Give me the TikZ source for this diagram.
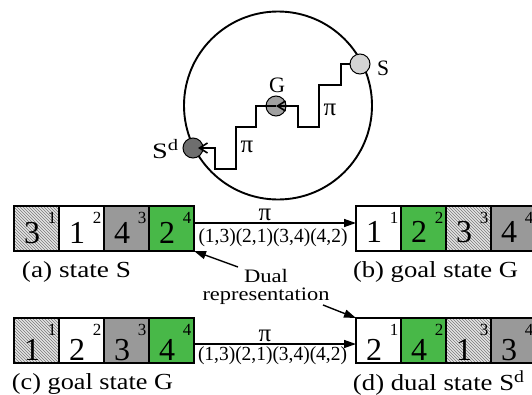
\documentclass[tikz,border=0pt]{standalone}
\usepackage{graphicx}
\usepackage{fontspec}
\setmainfont{Liberation Serif}
\usetikzlibrary{patterns,arrows.meta,calc}
\definecolor{hatchbg}{RGB}{228,228,228}
\definecolor{hatchfg}{RGB}{120,120,120}
\definecolor{boxgray}{RGB}{153,153,153}
\definecolor{boxgreen}{RGB}{72,184,72}
\definecolor{sgray}{RGB}{212,212,212}
\definecolor{ggray}{RGB}{160,160,160}
\definecolor{dgray}{RGB}{110,110,110}
\newcommand{\fitw}[2]{\resizebox{#1}{\height}{#2}}
\newcommand{\mkcell}[7]{%
  \node[cell,#4] (#1) at (#2,#3) {};
  \node[bigdig] at ($(#1.north west)+(18,#7)$) {#5};
  \node[supdig] at ($(#1.north west)+(38,17)$) {#6};
}
\tikzset{
  cell/.style={draw, line width=1.6pt, minimum width=45pt, minimum height=45pt,
    anchor=north west, inner sep=0pt, outer sep=0pt},
  hatchc/.style={preaction={fill=hatchbg}, pattern=north west lines, pattern color=hatchfg},
  whitec/.style={fill=white},
  grayc/.style={fill=boxgray},
  greenc/.style={fill=boxgreen},
  bigdig/.style={anchor=base, inner sep=0pt, font=\fontsize{32}{32}\selectfont},
  supdig/.style={anchor=base, inner sep=0pt, font=\fontsize{17}{17}\selectfont},
  caption/.style={anchor=base, inner sep=0pt, font=\fontsize{23}{23}\selectfont},
  permtxt/.style={anchor=base, inner sep=0pt, font=\fontsize{20}{20}\selectfont},
  pitxt/.style={inner sep=0pt, font=\fontsize{25}{25}\selectfont},
  lbl/.style={inner sep=0pt, font=\fontsize{22}{22}\selectfont},
  dualtxt/.style={anchor=base, inner sep=0pt, align=center,
    font=\fontsize{19}{18}\selectfont},
  statec/.style={circle, draw, line width=1pt, minimum size=20pt, inner sep=0pt},
  stair/.style={line width=2.7pt, -{Straight Barb[length=8pt,width=10pt,line width=1.6pt]}},
  piarrow/.style={line width=1.4pt, -{Triangle[length=12pt,width=8pt]}},
  ann/.style={line width=1.4pt, -{Triangle[length=12pt,width=8pt]}}
}
\begin{document}
\begin{tikzpicture}[x=1pt,y=-1pt]
\useasboundingbox (0,0) rectangle (532,394);
\clip (0,0) rectangle (532,394);
\fill[white] (0,0) rectangle (532,394);

% big circle and states
\node[circle, draw, line width=1.9pt, minimum size=188pt, inner sep=0pt] (world) at (278,105.5) {};
\node[statec, fill=sgray] (S) at (360,64) {};
\node[statec, fill=ggray] (G) at (276,106) {};
\node[statec, fill=dgray] (Sd) at (193,148) {};
\draw[stair] (S.west) -| (341,85) -| (319,127) -| (298,106) -- (G.center);
\draw[stair, shorten >=-1pt] (G.center) -| (256,127) -| (236,169) -| (215,148) -- ([xshift=6pt]Sd.center);
\node[pitxt] (pi1) at (330,110) {π};
\node[pitxt] (pi2) at (247,147) {π};
\node[lbl] (lS) at (383,68) {\fitw{12pt}{S}};
\node[lbl] (lG) at (277,85) {\fitw{16pt}{G}};
\node[lbl, anchor=base west] (lSd) at (152,158) {\fitw{26pt}{S\raisebox{8pt}{\fontsize{16}{16}\selectfont d}}};

% row 1
\mkcell{a1}{14}{206}{hatchc}{3}{1}{37}
\mkcell{a2}{59}{206}{whitec}{1}{2}{37}
\mkcell{a3}{104}{206}{grayc}{4}{3}{37}
\mkcell{a4}{149}{206}{greenc}{2}{4}{37}
\mkcell{b1}{356}{206}{whitec}{1}{1}{36}
\mkcell{b2}{401}{206}{greenc}{2}{2}{36}
\mkcell{b3}{446}{206}{hatchc}{3}{3}{36}
\mkcell{b4}{491}{206}{grayc}{4}{4}{36}
% row 2
\mkcell{c1}{14}{318}{hatchc}{1}{1}{42}
\mkcell{c2}{59}{318}{whitec}{2}{2}{42}
\mkcell{c3}{104}{318}{grayc}{3}{3}{42}
\mkcell{c4}{149}{318}{greenc}{4}{4}{42}
\mkcell{d1}{356}{318}{whitec}{2}{1}{42}
\mkcell{d2}{401}{318}{greenc}{4}{2}{42}
\mkcell{d3}{446}{318}{hatchc}{1}{3}{42}
\mkcell{d4}{491}{318}{grayc}{3}{4}{42}

% transitions
\draw[piarrow] ([yshift=5.5pt]a4.east) -- ([yshift=5.5pt]b1.west);
\node[pitxt, anchor=base] (pia) at (265,220) {π};
\node[permtxt] (perma) at (273,242) {\fitw{149pt}{(1,3)(2,1)(3,4)(4,2)}};
\draw[piarrow] ([yshift=-3.5pt]c4.east) -- ([yshift=-3.5pt]d1.west);
\node[pitxt, anchor=base] (pic) at (265,341) {π};
\node[permtxt] (permc) at (272.5,360) {\fitw{149pt}{(1,3)(2,1)(3,4)(4,2)}};

% captions
\node[caption] (capa) at (76.5,277) {\fitw{109pt}{(a) state S}};
\node[caption] (capb) at (435.5,277) {\fitw{165pt}{(b) goal state G}};
\node[caption] (capc) at (92.5,389) {\fitw{161pt}{(c) goal state G}};
\node[caption] (capd) at (438.5,390) {\fitw{171pt}{(d) dual state S\raisebox{8pt}{\fontsize{17}{17}\selectfont d}}};

% dual representation annotation
\node[dualtxt] (dual) at (266,300) {\fitw{44pt}{Dual}\\\fitw{127pt}{representation}};
\coordinate (t1) at (238,267);
\coordinate (t2) at (323,305);
\draw[ann] (t1) -- (a4.south east);
\draw[ann] (t2) -- (d1.north west);
\end{tikzpicture}
\end{document}
